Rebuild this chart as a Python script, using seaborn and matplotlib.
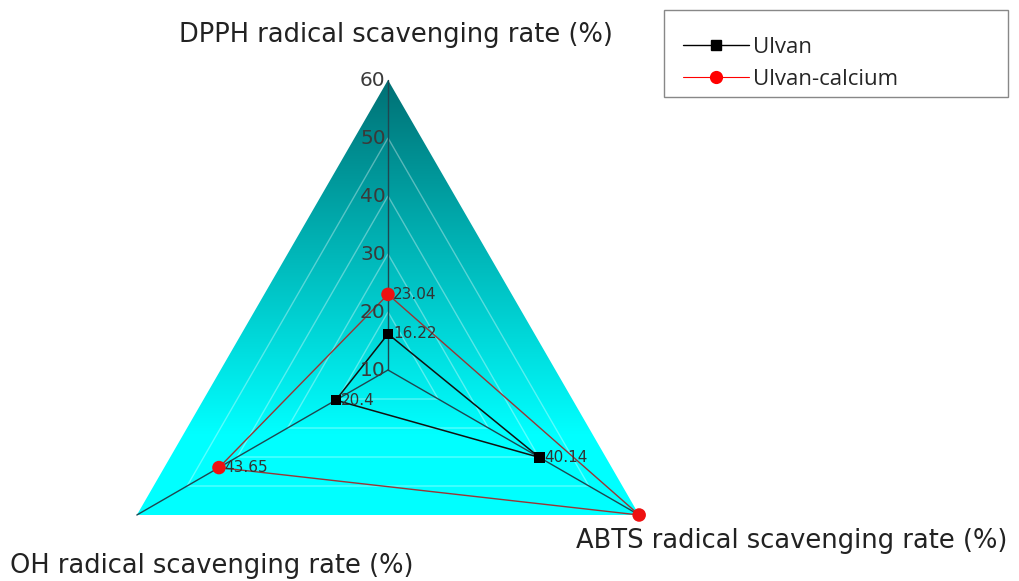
import numpy as np
import pandas as pd
import matplotlib
matplotlib.use("Agg")
import matplotlib.pyplot as plt
import seaborn as sns
from matplotlib.patches import Polygon, Rectangle
from matplotlib.lines import Line2D

# ---- data ----
categories = ["DPPH radical scavenging rate (%)",
              "ABTS radical scavenging rate (%)",
              "OH radical scavenging rate (%)"]
ulvan = [16.22, 40.14, 20.4]
ulvan_calcium = [23.04, 60.0, 43.65]
ulvan_calcium_labels = ["23.04", None, "43.65"]
ulvan_labels = ["16.22", "40.14", "20.4"]
ticks = [10, 20, 30, 40, 50, 60]
series_names = ["Ulvan", "Ulvan-calcium"]

rmin, rmax = 10, 60
angles = np.deg2rad([90, -30, 210])


def to_xy(values):
    r = np.asarray(values, dtype=float) - rmin
    return r * np.cos(angles), r * np.sin(angles)


sns.set_theme(style="white")
plt.rcParams["font.family"] = ["DejaVu Sans"]

W, H = 1020, 581
fig = plt.figure(figsize=(W / 100, H / 100), dpi=100)
ax = fig.add_axes([0, 0, 1, 1])
cx, cy, scale = 388, 370, 5.8

# outer triangle with vertical gradient
ox, oy = to_xy([rmax] * 3)
tri = Polygon(np.column_stack([ox, oy]), closed=True, facecolor="none", edgecolor="none")
ax.add_patch(tri)
ys = np.linspace(oy.min(), oy.max(), 300)
t = np.clip((oy.max() - ys) / (oy.max() - (-11.0)), 0, 1)
top = np.array([0, 112, 116]) / 255
bot = np.array([0, 255, 255]) / 255
cols = top[None, :] * (1 - t[:, None]) + bot[None, :] * t[:, None]
img = cols[:, None, :]
im = ax.imshow(img, extent=[ox.min(), ox.max(), oy.min(), oy.max()],
               origin="lower", aspect="auto", interpolation="bilinear", zorder=1)
im.set_clip_path(tri)

# grid triangles
for tv in ticks[1:-1]:
    gx, gy = to_xy([tv] * 3)
    ax.add_patch(Polygon(np.column_stack([gx, gy]), closed=True, fill=False,
                         edgecolor=(1, 1, 1, 0.35), lw=1.0, zorder=2))

# spokes
for k in range(3):
    ax.plot([0, ox[k]], [0, oy[k]], color="#1f4650", lw=1.0, zorder=3)

# series polygons via seaborn
ux, uy = to_xy(ulvan)
vx, vy = to_xy(ulvan_calcium)
df_u = pd.DataFrame({"x": np.r_[ux, ux[0]], "y": np.r_[uy, uy[0]]})
df_v = pd.DataFrame({"x": np.r_[vx, vx[0]], "y": np.r_[vy, vy[0]]})
sns.lineplot(data=df_v, x="x", y="y", sort=False, estimator=None, color="#9a3535",
             lw=1.0, ax=ax, zorder=4)
sns.lineplot(data=df_u, x="x", y="y", sort=False, estimator=None, color="#111111",
             lw=1.1, ax=ax, zorder=4)
ax.scatter(vx, vy, marker="o", s=95, color="#ee1111", edgecolors="none", zorder=6)
ax.scatter(ux, uy, marker="s", s=55, color="black", edgecolors="none", zorder=6)

# value labels
for x, y, lab in zip(ux, uy, ulvan_labels):
    ax.text(x + 0.9, y, lab, fontsize=11, color="#333333", va="center", ha="left", zorder=7)
for x, y, lab in zip(vx, vy, ulvan_calcium_labels):
    if lab:
        ax.text(x + 0.9, y, lab, fontsize=11, color="#333333", va="center", ha="left", zorder=7)

# tick labels along DPPH axis
for tv in ticks:
    tx, ty = to_xy([tv, rmin, rmin])
    ax.text(tx[0] - 0.4, ty[0], str(tv), fontsize=14.5, color="#3a3a3a",
            ha="right", va="center", zorder=7)

ax.set_xlim(-cx / scale, (W - cx) / scale)
ax.set_ylim(-(H - cy) / scale, cy / scale)
ax.axis("off")

# axis titles
fig.text(396 / W, 1 - 35 / H, categories[0], fontsize=18.5, color="#222222",
         ha="center", va="center")
fig.text(792 / W, 1 - 541 / H, categories[1], fontsize=18.5, color="#222222",
         ha="center", va="center")
fig.text(212 / W, 1 - 566 / H, categories[2], fontsize=18.5, color="#222222",
         ha="center", va="center")

# legend
fig.patches.append(Rectangle((664 / W, 1 - 97 / H), (1008 - 664) / W, (97 - 10) / H,
                             transform=fig.transFigure, facecolor="white",
                             edgecolor="#888888", lw=1.0))
handles = [Line2D([], [], color="black", lw=1.0, marker="s", markersize=7),
           Line2D([], [], color="red", lw=0.8, marker="o", markersize=9.5,
                  markeredgecolor="none")]
leg = fig.legend(handles, series_names, loc="upper left",
                 bbox_to_anchor=(665 / W, 1 - 19 / H), frameon=False,
                 handlelength=3.0, handletextpad=0.15, labelspacing=0.5,
                 prop={"family": "Open Sans", "size": 16}, borderpad=0.3)

fig.savefig("out.png", dpi=100)
